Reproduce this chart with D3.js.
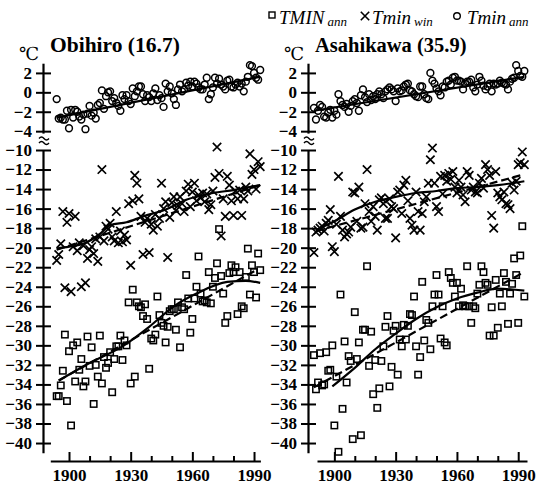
<!DOCTYPE html>
<html>
<head>
<meta charset="utf-8">
<script src="https://cdn.jsdelivr.net/npm/d3@7"></script>
<style>
  body { margin: 0; background: #fff; }
  svg { display: block; }
</style>
</head>
<body>
<svg id="chart" width="538" height="485"></svg>
<script>
// ---- Obihiro, one value per year from obihiroStart ----
const obihiroStart = 1894;
const obihiroTminAnn = [
  -0.7, -2.7, -2.6, -2.8, -2.8, -1.9, -3.7, -1.8, -2.6, -1.8,
  -2.0, -2.5, -2.8, -2.3, -3.8, -2.2, -1.4, -2.4, -2.1, -2.7,
  -1.3, -1.1,  0.2, -1.7, -0.4,  0.0,  0.1, -0.9, -0.6, -1.1,
  -1.4, -1.9, -0.3, -0.7, -0.3, -0.9, -1.2,  0.4, -0.4,  0.1,
   0.6,  0.6, -0.2, -0.9, -0.3, -0.5, -0.9, -0.1,  0.4, -0.8,
  -0.3, -0.6, -1.5,  0.9,  0.1,  0.6, -0.1, -0.7, -1.3,  0.3,
   0.8,  0.1,  0.3,  1.0,  0.7,  1.1,  0.6,  1.1,  0.9,  0.5,
   0.3,  0.3,  0.8,  1.5, -0.7, -0.2,  0.5,  1.5,  0.9,  1.4,
   0.8,  0.6,  0.3,  1.2,  1.3,  0.6,  0.5,  0.8,  1.0,  0.6,
   0.9,  0.1,  1.1,  1.6,  2.8,  2.7,  2.0,  1.5,  1.3,  2.3
];
const obihiroTminWin = [
  -21.3, -20.7, -19.6, -16.3, -24.1, -17.4, -16.5, -24.5, -19.9, -16.8,
  -20.3, -19.5, -24.0, -19.8, -23.6, -21.1, -20.2, -19.9, -20.6, -19.1,
  -21.4, -18.9, -12.0, -19.3, -17.8, -18.1, -17.5, -18.9, -19.3, -16.3,
  -19.5, -18.3, -19.4, -18.7, -19.2, -15.5, -21.8, -15.2, -12.6, -13.4,
  -15.0, -16.8, -20.7, -17.4, -17.0, -20.5, -17.6, -18.2, -16.6, -17.8,
  -17.0, -13.4, -16.0, -15.3, -21.0, -16.9, -15.4, -14.8, -16.2, -15.7,
  -14.8, -15.5, -16.3, -14.2, -13.5, -15.8, -14.3, -13.4, -15.2, -14.6,
  -14.9, -14.4, -15.3, -14.5, -16.1, -15.6, -14.2, -12.8,  -9.7, -12.4,
  -18.8, -15.0, -16.8, -12.7, -13.6, -15.2, -16.7, -14.2, -15.0, -14.1,
  -16.7, -15.0, -13.8, -14.2, -10.4, -12.5, -12.0, -14.0, -11.2, -11.7
];
const obihiroTMINAnn = [
  -35.2, -35.2, -34.1, -32.6, -28.9, -35.7, -30.6, -38.2, -30.0, -33.7,
  -29.7, -32.5, -31.4, -34.2, -33.7, -29.1, -32.1, -30.2, -36.0, -32.0,
  -33.2, -29.0, -33.9, -31.2, -32.3, -31.8, -30.7, -34.8, -31.4, -30.1,
  -30.1, -29.0, -31.5, -29.5, -30.0, -25.6, -33.9, -24.3, -33.2, -25.6,
  -26.0, -26.1, -27.0, -25.8, -27.3, -32.4, -29.3, -29.5, -28.9, -25.0,
  -26.9, -27.7, -28.0, -29.7, -28.1, -26.5, -26.3, -26.3, -28.4, -25.6,
  -30.2, -26.1, -26.3, -22.8, -25.2, -28.7, -27.3, -25.2, -24.0, -20.9,
  -24.7, -25.5, -25.4, -25.6, -22.5, -25.7, -24.0, -23.1, -21.6, -18.1,
  -22.9, -24.7, -27.7, -27.0, -22.6, -21.8, -22.5, -22.0, -26.8, -22.5,
  -26.0, -26.2, -23.0, -20.1, -24.8, -21.8, -22.5, -25.1, -20.6, -22.3
];

// ---- Asahikawa, one value per year from asahikawaStart ----
const asahikawaStart = 1890;
const asahikawaTminAnn = [
  -1.6, -2.8, -1.9, -1.3, -1.5, -2.5, -2.6, -2.1, -1.8, -2.6,
  -1.9, -2.3, -0.2, -0.9, -1.3, -1.5, -1.2, -2.0, -1.4, -0.9,
  -0.7, -1.1, -1.9, -0.3,  0.3, -0.5, -1.0, -0.2, -0.8, -0.4,
  -0.7, -0.2,  0.1, -0.2, -0.6,  0.1,  0.3,  0.5,  0.3,  0.1,
  -0.9,  0.4,  0.1,  0.2,  0.6,  0.8,  0.9,  0.2,  0.1, -0.2,
  -0.4, -0.5,  0.6,  0.6, -0.2, -0.6, -0.7,  2.0,  1.2,  0.9,
   0.4,  0.1, -0.3,  0.6,  0.5,  1.1,  1.2,  0.8,  1.5,  1.6,
   1.2,  1.2,  1.1,  0.3,  0.9,  1.1,  1.1,  1.3,  0.5,  0.1,
   0.8,  1.6,  1.2,  0.7,  0.3,  0.6,  0.9,  0.1,  0.9,  0.8,
   0.9,  1.2,  1.0,  0.9,  0.8,  0.3,  1.1,  1.4,  1.5,  2.8,
   2.2,  1.7,  1.6,  2.2
];
const asahikawaTminWin = [
  -20.5, -18.4, -18.2, -18.0, -17.8, -18.3, -17.5, -17.2, -16.1, -19.9,
  -20.4, -17.6, -12.7, -16.8, -18.2, -18.9, -18.6, -18.4, -17.9, -14.3,
  -14.4, -17.3, -13.8, -18.0, -17.9, -15.5, -12.0, -16.3, -17.3, -15.8,
  -16.8, -18.2, -15.1, -14.9, -15.5, -17.0, -17.0, -15.0, -15.8, -16.0,
  -19.0, -14.3, -14.1, -16.5, -13.6, -13.1, -15.2, -17.0, -17.7, -18.2,
  -14.3, -16.3, -18.2, -16.5, -15.3, -14.8, -13.4, -11.0,  -9.8, -13.4,
  -15.8, -16.3, -12.7, -14.5, -12.6, -13.2, -12.4, -13.0, -12.2, -13.8,
  -14.4, -13.1, -13.8, -14.6, -15.3, -12.2, -12.6, -14.1, -13.8, -14.3,
  -14.4, -13.4, -12.9, -13.9, -11.5, -12.0, -12.6, -16.7, -18.0, -12.2,
  -14.4, -14.8, -15.1, -14.3, -15.5, -15.6, -16.0, -13.4, -14.1, -13.2,
  -11.5, -11.3, -10.2, -11.5
];
const asahikawaTMINAnn = [
  -31.0, -34.5, -33.8, -30.8, -34.1, -34.0, -30.7, -32.6, -32.5, -30.0,
  -38.2, -33.2, -40.9, -24.8, -36.5, -29.6, -33.8, -31.1, -31.6, -39.6,
  -26.6, -31.4, -29.7, -39.2, -28.4, -28.4, -21.9, -32.1, -28.6, -35.0,
  -31.5, -36.4, -34.4, -31.6, -30.1, -28.1, -27.0, -34.2, -32.2, -28.5,
  -28.0, -33.0, -29.4, -30.1, -27.9, -29.4, -28.0, -26.8, -26.9, -25.0,
  -30.1, -33.0, -31.2, -23.5, -29.5, -27.4, -27.7, -30.4, -26.0, -24.8,
  -22.8, -24.8, -29.3, -26.0, -29.7, -30.0, -22.5, -23.1, -23.6, -25.0,
  -23.6, -26.0, -24.2, -25.9, -26.0, -21.9, -26.0, -27.7, -26.0, -26.2,
  -24.7, -23.8, -21.9, -22.5, -23.6, -23.8, -29.0, -26.1, -29.0, -23.3,
  -28.2, -24.7, -26.0, -22.6, -23.5, -27.8, -24.7, -23.7, -21.1, -22.8,
  -27.7, -20.8, -17.8, -25.0
];

// ---- Fitted curves (solid) and linear trends (dashed): years and °C ----
const obihiroAnnFitYears = [1894, 1993];
const obihiroAnnFit      = [-2.6, 1.6];
const obihiroWinFitYears = [1894, 1900, 1907, 1915, 1920, 1928, 1936, 1947, 1957, 1970, 1980, 1993];
const obihiroWinFit      = [-20.1, -19.9, -19.6, -18.6, -17.7, -17.4, -16.8, -16.1, -15.1, -14.4, -14.1, -13.6];
const obihiroWinTrendYears = [1894, 1993];
const obihiroWinTrend      = [-20.2, -13.6];
const obihiroAbsFitYears = [1895, 1910, 1926, 1939, 1951, 1962, 1977, 1986, 1993];
const obihiroAbsFit      = [-33.6, -31.8, -30.1, -28.1, -26.0, -24.7, -23.5, -23.4, -23.6];
const obihiroAbsTrendYears = [1895, 1991];
const obihiroAbsTrend      = [-33.6, -22.3];

const asahikawaAnnFitYears = [1890, 1993];
const asahikawaAnnFit      = [-1.9, 1.6];
const asahikawaWinFitYears = [1891, 1900, 1910, 1920, 1930, 1940, 1950, 1960, 1970, 1980, 1993];
const asahikawaWinFit      = [-18.2, -17.3, -16.1, -15.3, -14.8, -14.4, -14.2, -13.9, -13.8, -13.6, -13.2];
const asahikawaWinTrendYears = [1891, 1991];
const asahikawaWinTrend      = [-18.3, -12.6];
const asahikawaAbsFitYears = [1899, 1910, 1920, 1930, 1940, 1950, 1960, 1970, 1980, 1993];
const asahikawaAbsFit      = [-34.2, -32.3, -30.4, -28.8, -27.3, -26.1, -25.2, -24.6, -24.2, -24.4];
const asahikawaAbsTrendYears = [1890, 1992];
const asahikawaAbsTrend      = [-34.3, -22.6];

// ---- Tick values ----
const xTickLabels = [1900, 1930, 1960, 1990];
const xMinorTicks = [1910, 1920, 1940, 1950, 1970, 1980];
const yTopTicks = [-4, -2, 0, 2];
const yBottomTicks = [-40, -38, -36, -34, -32, -30, -28, -26, -24, -22, -20, -18, -16, -14, -12, -10];

// ---- Drawing ----
const ink = "#000";
const serif = "'Liberation Serif', 'Times New Roman', serif";
const svg = d3.select("#chart");

// upper block (annual mean minimum) and lower block (winter / absolute minima)
const yTop = d3.scaleLinear().domain([-4.2, 3]).range([133.1, 63.2]);
const yBot = d3.scaleLinear().domain([-41, -10]).range([452.8, 150]);

const series = (start, arr) => arr.map((v, i) => ({ year: start + i, v }));
const pairs = (ys, vs) => ys.map((y, i) => ({ year: y, v: vs[i] }));

const panels = [
  {
    title: "Obihiro (16.7)", titleSize: 21.5, start: obihiroStart,
    ann: obihiroTminAnn, win: obihiroTminWin, abs: obihiroTMINAnn,
    annFit: pairs(obihiroAnnFitYears, obihiroAnnFit),
    winFit: pairs(obihiroWinFitYears, obihiroWinFit),
    winTrend: pairs(obihiroWinTrendYears, obihiroWinTrend),
    absFit: pairs(obihiroAbsFitYears, obihiroAbsFit),
    absTrend: pairs(obihiroAbsTrendYears, obihiroAbsTrend),
    axisX: 43, x: d3.scaleLinear().domain([1890.9, 1993.1]).range([50.3, 260.4]),
    titleX: 50, unitX: 19
  },
  {
    title: "Asahikawa (35.9)", titleSize: 20.5, start: asahikawaStart,
    ann: asahikawaTminAnn, win: asahikawaTminWin, abs: asahikawaTMINAnn,
    annFit: pairs(asahikawaAnnFitYears, asahikawaAnnFit),
    winFit: pairs(asahikawaWinFitYears, asahikawaWinFit),
    winTrend: pairs(asahikawaWinTrendYears, asahikawaWinTrend),
    absFit: pairs(asahikawaAbsFitYears, asahikawaAbsFit),
    absTrend: pairs(asahikawaAbsTrendYears, asahikawaAbsTrend),
    axisX: 308, x: d3.scaleLinear().domain([1891.5, 1994.3]).range([317, 527]),
    titleX: 315, unitX: 284
  }
];

const crossPath = "M-4.2,-4.2L4.2,4.2M-4.2,4.2L4.2,-4.2";

function styleAxis(a) {
  a.attr("font-family", serif).attr("font-size", 17).attr("font-weight", "bold");
  a.select(".domain").attr("stroke", ink).attr("stroke-width", 2.2);
  a.selectAll(".tick line").attr("stroke", ink).attr("stroke-width", 2);
  a.selectAll(".tick text").attr("fill", ink);
}

panels.forEach(p => {
  const g = svg.append("g");
  const x = p.x;

  // y axes, ticks crossing the axis line
  [[yTop, yTopTicks], [yBot, yBottomTicks]].forEach(([y, tv]) => {
    const a = g.append("g")
      .attr("transform", `translate(${p.axisX},0)`)
      .call(d3.axisLeft(y).tickValues(tv).tickSize(-8).tickSizeOuter(0).tickPadding(11));
    styleAxis(a);
    a.selectAll(".tick line").attr("x1", -7);
  });

  // axis break between the two blocks
  const bx = p.axisX;
  [137.5, 142].forEach(yy => {
    g.append("path")
      .attr("d", `M${bx - 4},${yy + 1} q2.5,-3 5,0 t5,0`)
      .attr("fill", "none").attr("stroke", ink).attr("stroke-width", 1.4);
  });

  // x axis: labelled major ticks and unlabelled minor ticks
  const xa = g.append("g")
    .attr("transform", "translate(0,461)")
    .call(d3.axisBottom(x).tickValues(xTickLabels).tickSize(-9).tickSizeOuter(0)
      .tickFormat(d3.format("d")).tickPadding(8));
  styleAxis(xa);
  const xm = g.append("g")
    .attr("transform", "translate(0,461)")
    .call(d3.axisBottom(x).tickValues(xMinorTicks).tickSize(-5).tickSizeOuter(0).tickFormat(""));
  styleAxis(xm);
  xm.select(".domain").remove();

  // curves
  const lineTop = d3.line().x(d => x(d.year)).y(d => yTop(d.v)).curve(d3.curveMonotoneX);
  const lineBot = d3.line().x(d => x(d.year)).y(d => yBot(d.v)).curve(d3.curveMonotoneX);
  const lines = g.append("g").attr("fill", "none").attr("stroke", ink).attr("stroke-width", 2.2);
  lines.append("path").attr("d", lineTop(p.annFit));
  lines.append("path").attr("d", lineBot(p.winFit));
  lines.append("path").attr("d", lineBot(p.winTrend)).attr("stroke-dasharray", "8,4");
  lines.append("path").attr("d", lineBot(p.absFit));
  lines.append("path").attr("d", lineBot(p.absTrend)).attr("stroke-dasharray", "8,4");

  // Tmin annual: open circles
  g.append("g").selectAll("circle")
    .data(series(p.start, p.ann)).join("circle")
    .attr("cx", d => x(d.year)).attr("cy", d => yTop(d.v)).attr("r", 3.4)
    .attr("fill", "none").attr("stroke", ink).attr("stroke-width", 1.5);

  // Tmin winter: crosses
  g.append("g").selectAll("path")
    .data(series(p.start, p.win)).join("path")
    .attr("transform", d => `translate(${x(d.year)},${yBot(d.v)})`)
    .attr("d", crossPath).attr("stroke", ink).attr("stroke-width", 1.7);

  // TMIN annual: open squares
  g.append("g").selectAll("rect")
    .data(series(p.start, p.abs)).join("rect")
    .attr("x", d => x(d.year) - 3.2).attr("y", d => yBot(d.v) - 3.2)
    .attr("width", 6.4).attr("height", 6.4)
    .attr("fill", "none").attr("stroke", ink).attr("stroke-width", 1.5);

  // station title and unit
  g.append("text").attr("x", p.titleX).attr("y", 52)
    .attr("font-family", serif).attr("font-weight", "bold").attr("font-size", p.titleSize)
    .attr("fill", ink).text(p.title);
  g.append("text").attr("x", p.unitX).attr("y", 60)
    .attr("font-family", "'DejaVu Serif', serif").attr("font-size", 18)
    .attr("fill", ink).text("℃");
});

// legend: marker, name, and subscript
const legend = svg.append("g").attr("font-family", serif).attr("font-style", "italic").attr("fill", ink);
const legendItems = [
  { mark: "square", mx: 272, main: "TMIN", sub: "ann", tx: 279 },
  { mark: "cross",  mx: 365, main: "Tmin", sub: "win", tx: 372 },
  { mark: "circle", mx: 457, main: "Tmin", sub: "ann", tx: 467 }
];
legendItems.forEach(it => {
  if (it.mark === "square") {
    legend.append("rect").attr("x", it.mx - 3).attr("y", 12).attr("width", 6).attr("height", 6)
      .attr("fill", "none").attr("stroke", ink).attr("stroke-width", 1.4);
  } else if (it.mark === "cross") {
    legend.append("path").attr("transform", `translate(${it.mx},16)`).attr("d", crossPath)
      .attr("stroke", ink).attr("stroke-width", 1.6);
  } else {
    legend.append("circle").attr("cx", it.mx).attr("cy", 16).attr("r", 3.3)
      .attr("fill", "none").attr("stroke", ink).attr("stroke-width", 1.4);
  }
  const mainText = legend.append("text").attr("x", it.tx).attr("y", 24)
    .attr("font-size", 19).text(it.main);
  const w = mainText.node().getComputedTextLength();
  legend.append("text").attr("x", it.tx + w + 3).attr("y", 26)
    .attr("font-size", 13).text(it.sub);
});
</script>
</body>
</html>
